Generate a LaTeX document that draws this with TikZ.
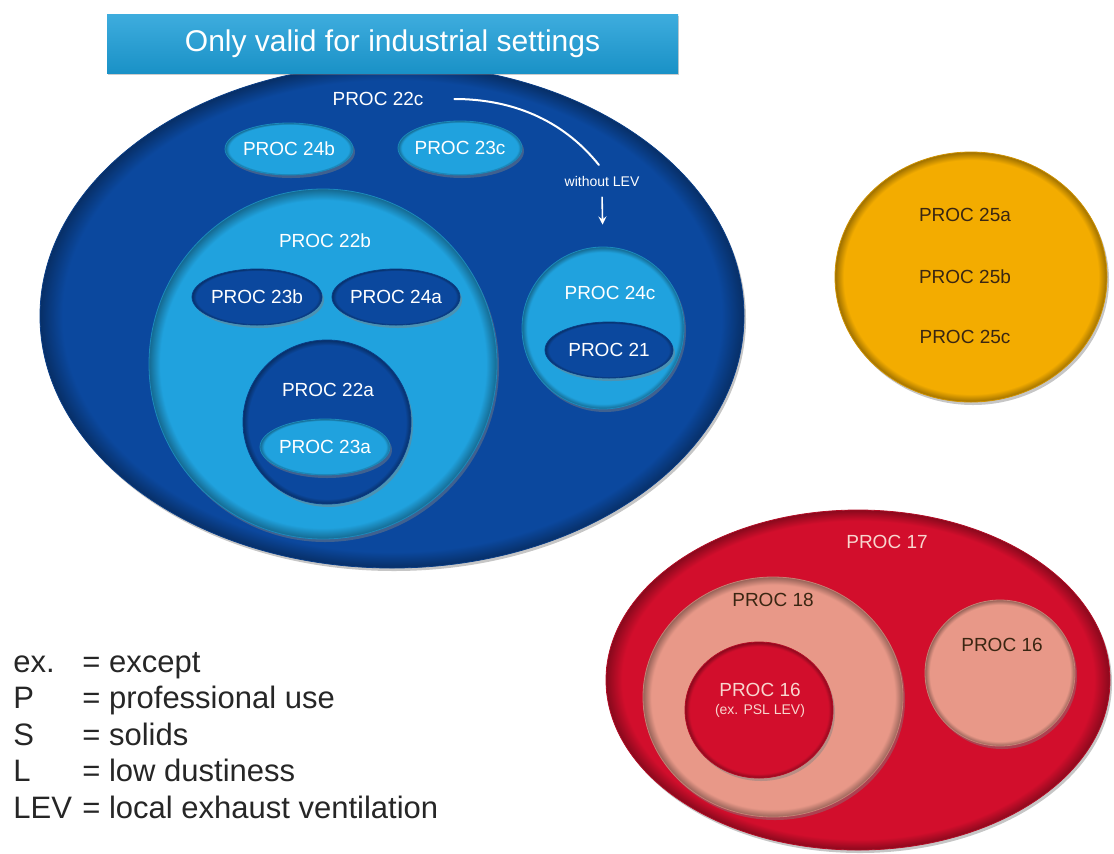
\documentclass[tikz,border=0pt]{standalone}
\usepackage{fontspec}
\setmainfont{Liberation Sans}
\usetikzlibrary{shapes.geometric,shadows}
\definecolor{dblue}{RGB}{11,72,158}
\definecolor{lblue}{RGB}{32,162,222}
\definecolor{tblue}{RGB}{28,158,216}
\definecolor{gold}{RGB}{243,172,0}
\definecolor{pred}{RGB}{210,14,44}
\definecolor{salmon}{RGB}{232,152,136}
\definecolor{pale}{RGB}{248,214,206}
\definecolor{ink}{RGB}{58,38,18}
\newcommand{\rimshade}[1]{\pgfdeclareradialshading{rim#1}{\pgfpointorigin}{color(0bp)=(#1); color(23.4bp)=(#1); color(25bp)=(#1!65!black); color(30bp)=(#1!65!black)}}
\rimshade{dblue}\rimshade{lblue}\rimshade{gold}\rimshade{pred}\rimshade{salmon}
\newcommand{\lbl}[1]{\makebox[0pt]{#1}}
\begin{document}
\begin{tikzpicture}[x=0.5pt, y=-0.5pt, line join=round, line cap=round, >=stealth,
    blob/.style={ellipse, inner sep=0pt, shading=rim#1, draw=#1!85!black, line width=0.4pt,
      drop shadow={opacity=0.45, shadow xshift=1pt, shadow yshift=-1.5pt}},
    proc/.style={font=\fontsize{9.5}{11}\selectfont, text=white},
    dproc/.style={proc, text=ink},
    legend/.style={anchor=base west, inner sep=0pt, font=\fontsize{15.5}{18}\selectfont, text=black!85}]
\useasboundingbox (0,0) rectangle (1114,853);
\node[blob=dblue, minimum width=352pt, minimum height=252pt] (c22c) at (392,316) {};
\node[rectangle, top color=tblue!85!white, bottom color=tblue!92!black, minimum width=285.5pt, minimum height=29.5pt,
    drop shadow={opacity=0.4, shadow xshift=0.5pt, shadow yshift=-1pt}, text=white, font=\fontsize{15}{18}\selectfont] (title) at (392.5,43.5) {Only valid for industrial settings};
\node[proc] (t22c) at (378,99) {PROC 22c};
\node[blob=lblue, proc, minimum width=64pt, minimum height=26pt] (e24b) at (289,149) {\lbl{PROC 24b}};
\node[blob=lblue, proc, minimum width=62pt, minimum height=27pt] (e23c) at (460,148) {\lbl{PROC 23c}};
\node[proc, font=\fontsize{7}{8}\selectfont] (woLEV) at (602,181) {without LEV};
\node[blob=lblue, minimum width=174pt, minimum height=175pt] (c22b) at (323,364) {};
\node[proc] (t22b) at (325,241) {PROC 22b};
\node[blob=dblue, proc, minimum width=65pt, minimum height=28pt] (e23b) at (257,297) {\lbl{PROC 23b}};
\node[blob=dblue, proc, minimum width=64pt, minimum height=28pt] (e24a) at (396,297) {\lbl{PROC 24a}};
\node[blob=dblue, minimum width=84pt, minimum height=82pt] (c22a) at (327,422) {};
\node[proc] (t22a) at (328,390) {PROC 22a};
\node[blob=lblue, proc, minimum width=65pt, minimum height=28pt] (e23a) at (325,447) {\lbl{PROC 23a}};
\node[blob=lblue, minimum width=81pt, minimum height=81pt] (c24c) at (603,328) {};
\node[proc] (t24c) at (610,293) {PROC 24c};
\node[blob=dblue, proc, minimum width=64pt, minimum height=28pt] (e21) at (609,350) {\lbl{PROC 21}};
\draw[white, line width=1pt, shorten <=12pt, shorten >=2.5pt] (t22c.east) .. controls +(80,0) and +(-40,-50) .. (woLEV.north);
\draw[->, white, line width=0.8pt, shorten <=2pt, shorten >=11pt] (woLEV.south) -- (c24c.north);
\node[blob=gold, minimum width=136pt, minimum height=125pt] (c25) at (971,277) {};
\foreach \s/\y in {a/215, b/277, c/337}
    \node[dproc] (t25\s) at (965,\y) {PROC 25\s};
\node[blob=pred, minimum width=252pt, minimum height=170pt] (c17) at (858,680) {};
\node[proc, text=pale] (t17) at (887,542) {PROC 17};
\node[blob=salmon, minimum width=130pt, minimum height=120pt] (c18) at (773,697) {};
\node[dproc] (t18) at (773,600) {PROC 18};
\node[blob=pred, minimum width=74pt, minimum height=68pt] (c16x) at (759,710) {};
\node[proc, text=pale, align=center] (t16x) at (760,700) {PROC 16\\[-2pt]{\fontsize{7}{8}\selectfont(ex. PSL LEV)}};
\node[blob=salmon, minimum width=75pt, minimum height=73pt] (c16) at (1000,673) {};
\node[dproc] (t16) at (1002,645) {PROC 16};
\foreach \ab/\txt [count=\i] in {ex./except, P/professional use, S/solids, L/low dustiness, LEV/local exhaust ventilation}{
    \node[legend] (ab\i) at (13,{672+36.5*(\i-1)}) {\ab};
    \node[legend] (df\i) at (82,{672+36.5*(\i-1)}) {= \txt};
}
\end{tikzpicture}
\end{document}
